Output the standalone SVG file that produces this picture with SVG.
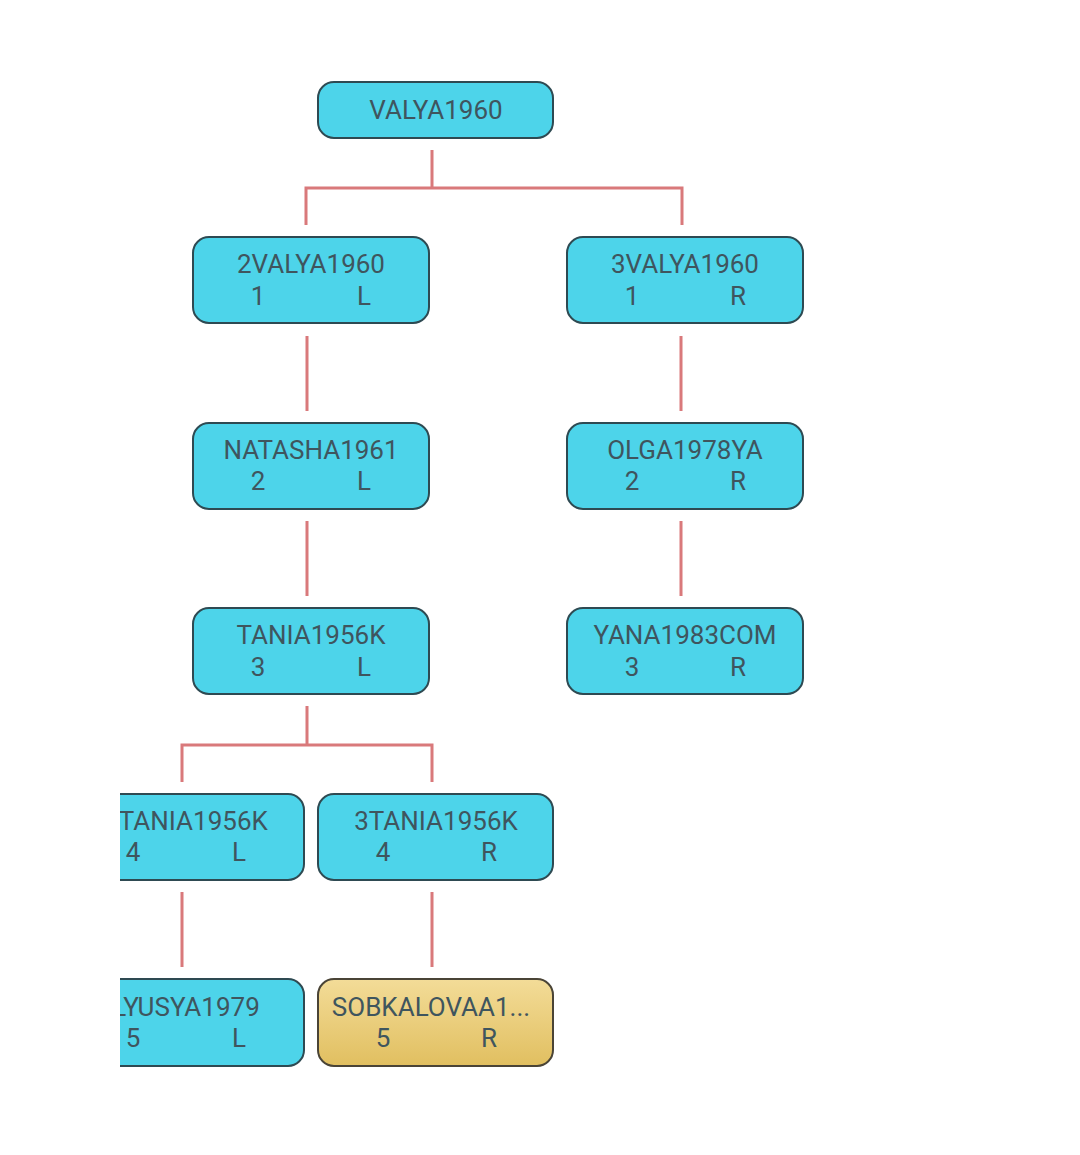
<svg xmlns="http://www.w3.org/2000/svg" width="1080" height="1155" viewBox="0 0 1080 1155">
<style>
.n{fill:#4dd4ea;stroke:#2e4a52;stroke-width:2}
.g{fill:url(#gold);stroke:#4a4436;stroke-width:2}
text{font-family:Roboto,"Liberation Sans",sans-serif;font-size:26px;fill:#3f555e;text-anchor:middle}
.c{stroke:#d9797b;stroke-width:3;fill:none}
</style>
<defs>
<linearGradient id="gold" x1="0" y1="0" x2="0" y2="1">
<stop offset="0" stop-color="#f3dc98"/>
<stop offset="1" stop-color="#e1bf60"/>
</linearGradient>
<clipPath id="clipL"><rect x="120" y="0" width="960" height="1155"/></clipPath>
</defs>
<rect width="1080" height="1155" fill="#fff"/>
<g id="connectors">
<path class="c" d="M432 150V188M306 225V188H682V225"/>
<path class="c" d="M307 336V411M681 336V411M307 521V596M681 521V596"/>
<path class="c" d="M307 706V745M182 782V745H432V782"/>
<path class="c" d="M182 892V967M432 892V967"/>
</g>
<g id="n1"><rect class="n" x="318" y="82" width="235" height="56" rx="16"/><text x="436" y="119">VALYA1960</text></g>
<g id="n2"><rect class="n" x="193" y="237" width="236" height="86" rx="16"/><text x="311" y="273">2VALYA1960</text><text x="258" y="305">1</text><text x="364" y="305">L</text></g>
<g id="n3"><rect class="n" x="567" y="237" width="236" height="86" rx="16"/><text x="685" y="273">3VALYA1960</text><text x="632" y="305">1</text><text x="738" y="305">R</text></g>
<g id="n4"><rect class="n" x="193" y="423" width="236" height="86" rx="16"/><text x="311" y="459">NATASHA1961</text><text x="258" y="490">2</text><text x="364" y="490">L</text></g>
<g id="n5"><rect class="n" x="567" y="423" width="236" height="86" rx="16"/><text x="685" y="459">OLGA1978YA</text><text x="632" y="490">2</text><text x="738" y="490">R</text></g>
<g id="n6"><rect class="n" x="193" y="608" width="236" height="86" rx="16"/><text x="311" y="644">TANIA1956K</text><text x="258" y="676">3</text><text x="364" y="676">L</text></g>
<g id="n7"><rect class="n" x="567" y="608" width="236" height="86" rx="16"/><text x="685" y="644">YANA1983COM</text><text x="632" y="676">3</text><text x="738" y="676">R</text></g>
<g id="n8" clip-path="url(#clipL)"><rect class="n" x="68" y="794" width="236" height="86" rx="16"/><text x="186" y="830">2TANIA1956K</text><text x="133" y="861">4</text><text x="239" y="861">L</text></g>
<g id="n9"><rect class="n" x="318" y="794" width="235" height="86" rx="16"/><text x="436" y="830">3TANIA1956K</text><text x="383" y="861">4</text><text x="489" y="861">R</text></g>
<g id="n10" clip-path="url(#clipL)"><rect class="n" x="68" y="979" width="236" height="87" rx="16"/><text x="186" y="1016">LYUSYA1979</text><text x="133" y="1047">5</text><text x="239" y="1047">L</text></g>
<g id="n11"><rect class="g" x="318" y="979" width="235" height="87" rx="16"/><text x="431" y="1016">SOBKALOVAA1...</text><text x="383" y="1047">5</text><text x="489" y="1047">R</text></g>
</svg>
